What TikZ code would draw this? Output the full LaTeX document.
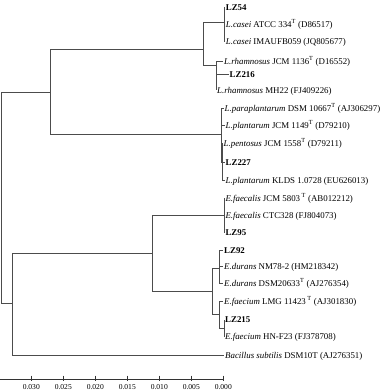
\documentclass[tikz,border=0pt]{standalone}
\usepackage{fontspec}
\setmainfont{Liberation Serif}
\begin{document}
\begin{tikzpicture}[x=1bp,y=-1bp,
  br/.style={draw=black!70,line width=0.8bp},
  leaf/.style={anchor=west,inner xsep=1bp,inner ysep=0pt,text height=6bp,text depth=0pt,font=\fontsize{8.9}{10}\selectfont},
  tick/.style={draw=black!80,line width=0.7bp},
  ticklab/.style={font=\fontsize{7.6}{9}\selectfont,inner sep=0pt}]
\useasboundingbox (0,0) rectangle (392,392);
% internal nodes
\coordinate (root) at (1.7,197.8);
\coordinate (n1) at (50,92.3);
\coordinate (n2) at (203.3,49.3);
\coordinate (n3) at (224.7,22.7);
\coordinate (n4) at (216,65);
\coordinate (n5) at (221.7,134.7);
\coordinate (n6) at (222.5,162);
\coordinate (n7) at (12.3,303.3);
\coordinate (n8) at (152,253.3);
\coordinate (n9) at (224.3,215.7);
\coordinate (n10) at (212.7,291);
\coordinate (n11) at (219.5,268.3);
\coordinate (n12) at (219.5,314);
\coordinate (n13) at (224,328);
% leaves
\node[leaf] (l1) at (224.7,7.3) {\textbf{LZ54}};
\node[leaf] (l2) at (224.7,24) {\textit{L.casei} ATCC 334\textsuperscript{T} (D86517)};
\node[leaf] (l3) at (224.7,41.7) {\textit{L.casei} IMAUFB059 (JQ805677)};
\node[leaf] (l4) at (223,61.7) {\textit{L.rhamnosus} JCM 1136\textsuperscript{T} (D16552)};
\node[leaf] (l5) at (228.5,74) {\textbf{LZ216}};
\node[leaf] (l6) at (216,90) {\textit{L.rhamnosus} MH22 (FJ409226)};
\node[leaf] (l7) at (223.5,108.3) {\textit{L.paraplantarum} DSM 10667\textsuperscript{T} (AJ306297)};
\node[leaf] (l8) at (224.5,125.5) {\textit{L.plantarum} JCM 1149\textsuperscript{T} (D79210)};
\node[leaf] (l9) at (222.5,143) {\textit{L.pentosus} JCM 1558\textsuperscript{T} (D79211)};
\node[leaf] (l10) at (224.5,162.5) {\textbf{LZ227}};
\node[leaf] (l11) at (224.5,180.7) {\textit{L.plantarum} KLDS 1.0728 (EU626013)};
\node[leaf] (l12) at (224.3,198) {\textit{E.faecalis} JCM 5803\,\textsuperscript{T} (AB012212)};
\node[leaf] (l13) at (224.3,215.5) {\textit{E.faecalis} CTC328 (FJ804073)};
\node[leaf] (l14) at (224.3,232.7) {\textbf{LZ95}};
\node[leaf] (l15) at (223,250) {\textbf{LZ92}};
\node[leaf] (l16) at (223,266.7) {\textit{E.durans} NM78-2 (HM218342)};
\node[leaf] (l17) at (223,283.3) {\textit{E.durans} DSM20633\textsuperscript{T} (AJ276354)};
\node[leaf] (l18) at (223,301.7) {\textit{E.faecium} LMG 11423\,\textsuperscript{T} (AJ301830)};
\node[leaf] (l19) at (224,319.5) {\textbf{LZ215}};
\node[leaf] (l20) at (224,336.7) {\textit{E.faecium} HN-F23 (FJ378708)};
\node[leaf] (l21) at (224,355) {\textit{Bacillus subtilis} DSM10T (AJ276351)};
% branches
\draw[br] (root) |- (n1);
\draw[br] (root) |- (n7);
\draw[br] (n1) |- (n2);
\draw[br] (n1) |- (n5);
\draw[br] (n2) |- (n3);
\draw[br] (n2) |- (n4);
\draw[br] (n3) |- (l1.west);
\draw[br] (n3) |- (l2.west);
\draw[br] (n3) |- (l3.west);
\draw[br] (n4) |- (l4.west);
\draw[br] (n4) |- (l5.west);
\draw[br] (n4) |- (l6.west);
\draw[br] (n5) |- (l7.west);
\draw[br] (n5) |- (l8.west);
\draw[br] (n5) |- (n6);
\draw[br] (n6) |- (l9.west);
\draw[br] (n6) |- (l10.west);
\draw[br] (n6) |- (l11.west);
\draw[br] (n7) |- (n8);
\draw[br] (n7) |- (l21.west);
\draw[br] (n8) |- (n9);
\draw[br] (n8) |- (n10);
\draw[br] (n9) |- (l12.west);
\draw[br] (n9) |- (l13.west);
\draw[br] (n9) |- (l14.west);
\draw[br] (n10) |- (n11);
\draw[br] (n10) |- (n12);
\draw[br] (n11) |- (l15.west);
\draw[br] (n11) |- (l16.west);
\draw[br] (n11) |- (l17.west);
\draw[br] (n12) |- (l18.west);
\draw[br] (n12) |- (n13);
\draw[br] (n13) |- (l19.west);
\draw[br] (n13) |- (l20.west);
% scale axis
\coordinate (a0) at (0,379);
\coordinate (a1) at (223.3,379);
\draw[tick] (a0) -- (a1);
\foreach \k/\lab in {0/0.000,1/0.005,2/0.010,3/0.015,4/0.020,5/0.025,6/0.030}{
  \draw[tick] (223.3-32*\k,375.5) -- (223.3-32*\k,380.5);
  \node[ticklab] (t\k) at (223.3-32*\k,387) {\lab};
}
\end{tikzpicture}
\end{document}
